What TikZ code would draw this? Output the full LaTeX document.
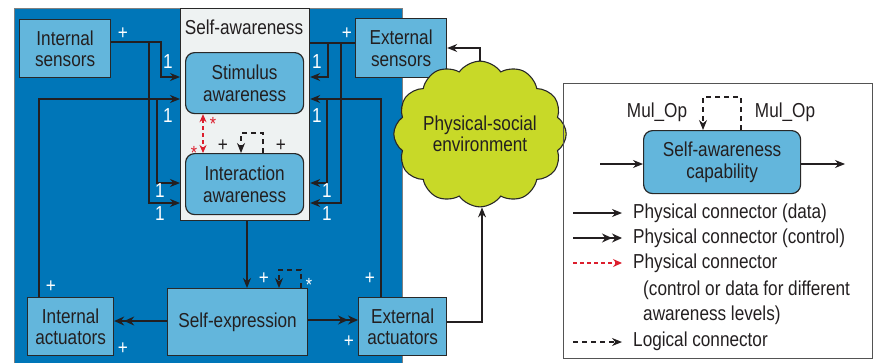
\documentclass[tikz,border=0pt]{standalone}
\usepackage{fontspec}
\setmainfont{Liberation Sans}[FakeStretch=0.85]
\usetikzlibrary{arrows.meta,shapes.symbols}

\definecolor{corefill}{RGB}{0,118,184}
\definecolor{boxfill}{RGB}{99,182,220}
\definecolor{safill}{RGB}{238,242,242}
\definecolor{edge}{RGB}{40,40,40}
\definecolor{ink}{RGB}{35,31,32}
\definecolor{redc}{RGB}{220,30,45}
\definecolor{cloudfill}{RGB}{200,217,40}

\begin{document}
\begin{tikzpicture}[x=1pt,y=-1pt,
  font=\fontsize{20.2}{21.5}\selectfont,
  box/.style={draw=edge, line width=1.2pt, fill=boxfill, align=center,
    inner sep=0pt, text=ink, anchor=north west},
  rbox/.style={box, rounded corners=9pt},
  wlab/.style={text=white, inner sep=0pt},
  blab/.style={text=ink, inner sep=0pt},
  star/.style={inner sep=0pt, font=\fontsize{19}{19}\selectfont},
  wire/.style={draw=ink, line width=1.1pt},
  data/.style={wire, -{Stealth[length=10pt,width=8pt]}},
  ctrl/.style={wire, -{Stealth[length=10pt,width=9pt]Stealth[length=10pt,width=9pt]}},
  levels/.style={draw=redc, line width=1.1pt, dash pattern=on 4pt off 3pt},
  logic/.style={wire, dash pattern=on 5pt off 4pt, -{Stealth[length=10pt,width=8pt]}},
  legtext/.style={anchor=west, inner sep=0pt, text=ink}]

\useasboundingbox (0,0) rectangle (877,362);

% system panel and self-awareness container
\node[draw=gray, line width=1pt, fill=corefill, anchor=north west,
      minimum width=388, minimum height=362, inner sep=0pt] (core) at (14,8) {};
\node[draw=edge, line width=1.2pt, fill=safill, anchor=north west,
      minimum width=129, minimum height=212, inner sep=0pt] (sa) at (180,8) {};
\node[blab] (satitle) at (244,27) {Self-awareness};

% components
\node[rbox, minimum width=118, minimum height=61] (stim) at (185,52) {Stimulus\\awareness};
\node[rbox, minimum width=118, minimum height=61] (inter) at (185,153) {Interaction\\awareness};
\node[box, minimum width=91, minimum height=58] (isens) at (19,19) {Internal\\sensors};
\node[box, minimum width=91, minimum height=59] (esens) at (355,18) {External\\sensors};
\node[box, minimum width=86, minimum height=58] (iact) at (27,297) {Internal\\actuators};
\node[box, minimum width=140, minimum height=67] (sexp) at (167,288) {Self-expression};
\node[box, minimum width=88, minimum height=58] (eact) at (358,297) {External\\actuators};
\node[cloud, cloud puffs=12, cloud puff arc=110, aspect=1.25, draw=edge,
      line width=1.1pt, fill=cloudfill, minimum width=150, minimum height=121,
      inner sep=0pt, align=center, text=ink] (env) at (480,134)
      {Physical-social\\environment};

% inputs on the left of the self-awareness container
\coordinate (jl1) at (149,42);
\coordinate (jl2) at (157,99);
\draw[data] (isens.east |- 0,42) -| (161,77) -- (sa.west |- 0,77);
\draw[data] (jl1) |- (sa.west |- 0,203);
\draw[data] (iact.north -| 39,0) |- (sa.west |- 0,99);
\draw[data] (jl2) |- (sa.west |- 0,183);

% inputs on the right of the self-awareness container
\coordinate (jr1) at (341,43);
\coordinate (jr2) at (327,99);
\draw[wire] (esens.west |- 0,43) -- (sa.east |- 0,43);
\draw[data] (328,43) |- (sa.east |- 0,77);
\draw[data] (jr1) |- (sa.east |- 0,203);
\draw[data] (eact.north -| 381,0) |- (sa.east |- 0,99);
\draw[data] (jr2) |- (sa.east |- 0,183);

% multiplicities
\node[wlab] (p1) at (123,34) {+};
\node[wlab] (p2) at (347,34) {+};
\node[wlab] (l1) at (168,62) {1};
\node[wlab] (l2) at (168,116) {1};
\node[wlab] (l3) at (160,191) {1};
\node[wlab] (l4) at (160,214) {1};
\node[wlab] (r1) at (317,62) {1};
\node[wlab] (r2) at (317,116) {1};
\node[wlab] (r3) at (327,191) {1};
\node[wlab] (r4) at (327,214) {1};

% links between awareness levels
\draw[levels, {Stealth[length=8pt,width=7pt]}-{Stealth[length=8pt,width=7pt]},
      redc] (stim.south -| 203,0) -- (inter.north -| 203,0);
\node[star, text=redc] (s1) at (213,124) {*};
\node[star, text=redc] (s2) at (194,153) {*};
\draw[logic] (inter.north -| 263,0) -- ++(0,-20) -| (inter.north -| 241,0);
\node[blab] (p3) at (223,146) {+};
\node[blab] (p4) at (281,146) {+};

% self-expression and actuators
\draw[data] (sa.south -| 247,0) -- (sexp.north -| 247,0);
\draw[logic] (sexp.north -| 301,0) -- ++(0,-18) -| (sexp.north -| 279,0);
\node[wlab] (p5) at (264,279) {+};
\node[star, text=white] (s3) at (309,285) {*};
\draw[ctrl] (sexp.west |- 0,321) -- (iact.east |- 0,321);
\draw[ctrl] (sexp.east |- 0,320) -- (eact.west |- 0,320);
\node[wlab] (p6) at (51,287) {+};
\node[wlab] (p7) at (123,349) {+};
\node[wlab] (p8) at (370,279) {+};
\node[wlab] (p9) at (349,342) {+};

% environment loop
\draw[data] (env.north -| 480,0) |- (esens.east |- 0,48);
\draw[data] (eact.east |- 0,322) -| (env.south -| 482,0);

% legend
\node[draw=edge!80, line width=1pt, anchor=north west, minimum width=309,
      minimum height=275, inner sep=0pt] (legend) at (563,83) {};
\node[rbox, minimum width=157, minimum height=63] (cap) at (643,130)
      {Self-awareness\\capability};
\node[blab] (mul1) at (657,112) {Mul\_Op};
\node[blab] (mul2) at (785,112) {Mul\_Op};
\draw[logic] (cap.north -| 741,0) -- ++(0,-33) -| (cap.north -| 703,0);
\coordinate (capin) at (600,164);
\coordinate (capout) at (845,164);
\draw[data] (capin) -- (cap.west |- capin);
\draw[data] (cap.east |- capout) -- (capout);

\coordinate (a1) at (573,213); \coordinate (b1) at (622,213);
\coordinate (a2) at (573,238); \coordinate (b2) at (622,238);
\coordinate (a3) at (573,263); \coordinate (b3) at (622,263);
\coordinate (a4) at (573,342); \coordinate (b4) at (622,342);
\draw[data] (a1) -- (b1);
\draw[ctrl] (a2) -- (b2);
\draw[levels, -{Stealth[length=9pt,width=8pt]}] (a3) -- (b3);
\draw[logic] (a4) -- (b4);
\node[legtext] (t1) at (633,213) {Physical connector (data)};
\node[legtext] (t2) at (633,238) {Physical connector (control)};
\node[legtext] (t3) at (633,263) {Physical connector};
\node[legtext] (t4) at (643,290) {(control or data for different};
\node[legtext] (t5) at (643,315) {awareness levels)};
\node[legtext] (t6) at (633,341) {Logical connector};
\end{tikzpicture}
\end{document}
